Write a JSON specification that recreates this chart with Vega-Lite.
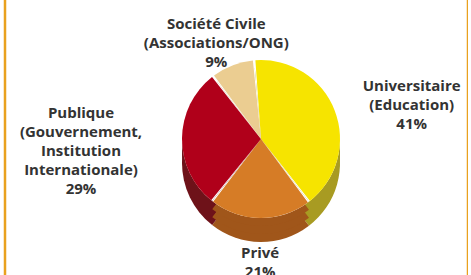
{
  "$schema": "https://vega.github.io/schema/vega-lite/v6.json",
  "autosize": "none",
  "width": 463,
  "height": 295,
  "padding": {"left": 5, "top": -10, "right": 0, "bottom": 0},
  "background": "white",
  "config": {"view": {"stroke": "#E9A11E", "strokeWidth": 2.5}},
  "data": {"values": [
    {"cat": "Universitaire", "label": "Universitaire\n(Education)\n41%", "pct": 41, "ord": 1},
    {"cat": "Privé", "label": "Privé\n21%", "pct": 21, "ord": 2},
    {"cat": "Publique", "label": "Publique\n(Gouvernement,\nInstitution\nInternationale)\n29%", "pct": 29, "ord": 3},
    {"cat": "Société Civile", "label": "Société Civile\n(Associations/ONG)\n9%", "pct": 9, "ord": 4}
  ]},
  "encoding": {
    "theta": {"field": "pct", "type": "quantitative", "stack": true, "scale": {"range": [-0.087, 6.196]}},
    "order": {"field": "ord", "type": "quantitative"},
    "detail": {"field": "cat", "type": "nominal"},
    "x": {"value": 256},
    "y": {"value": 149}
  },
  "layer": [
    {
      "mark": {"type": "arc", "outerRadius": 79, "yOffset": 24},
      "encoding": {"color": {"field": "cat", "type": "nominal", "legend": null,
        "scale": {"domain": ["Universitaire", "Privé", "Publique", "Société Civile"], "range": ["#A89B22", "#A0561A", "#6E1219", "#B89A60"]}}}
    },
    {
      "mark": {"type": "arc", "outerRadius": 79, "yOffset": 16},
      "encoding": {"color": {"field": "cat", "type": "nominal", "legend": null,
        "scale": {"domain": ["Universitaire", "Privé", "Publique", "Société Civile"], "range": ["#A89B22", "#A0561A", "#6E1219", "#B89A60"]}}}
    },
    {
      "mark": {"type": "arc", "outerRadius": 79, "yOffset": 8},
      "encoding": {"color": {"field": "cat", "type": "nominal", "legend": null,
        "scale": {"domain": ["Universitaire", "Privé", "Publique", "Société Civile"], "range": ["#A89B22", "#A0561A", "#6E1219", "#B89A60"]}}}
    },
    {
      "mark": {"type": "arc", "outerRadius": 79, "color": "white"}
    },
    {
      "mark": {"type": "arc", "outerRadius": 79, "padAngle": 0.032},
      "encoding": {"color": {"field": "cat", "type": "nominal", "legend": null,
        "scale": {"domain": ["Universitaire", "Privé", "Publique", "Société Civile"], "range": ["#F6E400", "#D67C26", "#B0001A", "#EBCD91"]}}}
    },
    {
      "mark": {"type": "text", "radius": 153, "dx": 8, "dy": 2, "font": "Open Sans", "fontWeight": "bold", "fontSize": 15, "lineHeight": 19, "lineBreak": "\n", "color": "#333333", "baseline": "middle", "align": "center"},
      "encoding": {"text": {"condition": {"test": "datum.cat === 'Universitaire'", "field": "label"}, "value": ""}}
    },
    {
      "mark": {"type": "text", "radius": 122, "dy": -7.5, "font": "Open Sans", "fontWeight": "bold", "fontSize": 15, "lineHeight": 19, "lineBreak": "\n", "color": "#333333", "baseline": "middle", "align": "center"},
      "encoding": {"text": {"condition": {"test": "datum.cat === 'Privé'", "field": "label"}, "value": ""}}
    },
    {
      "mark": {"type": "text", "radius": 180, "dy": -25, "font": "Open Sans", "fontWeight": "bold", "fontSize": 15, "lineHeight": 19, "lineBreak": "\n", "color": "#333333", "baseline": "middle", "align": "center"},
      "encoding": {"text": {"condition": {"test": "datum.cat === 'Publique'", "field": "label"}, "value": ""}}
    },
    {
      "mark": {"type": "text", "radius": 107, "dx": -6, "dy": -15, "font": "Open Sans", "fontWeight": "bold", "fontSize": 15, "lineHeight": 19, "lineBreak": "\n", "color": "#333333", "baseline": "middle", "align": "center"},
      "encoding": {"text": {"condition": {"test": "datum.cat === 'Société Civile'", "field": "label"}, "value": ""}}
    }
  ],
  "resolve": {"scale": {"color": "independent"}}
}
